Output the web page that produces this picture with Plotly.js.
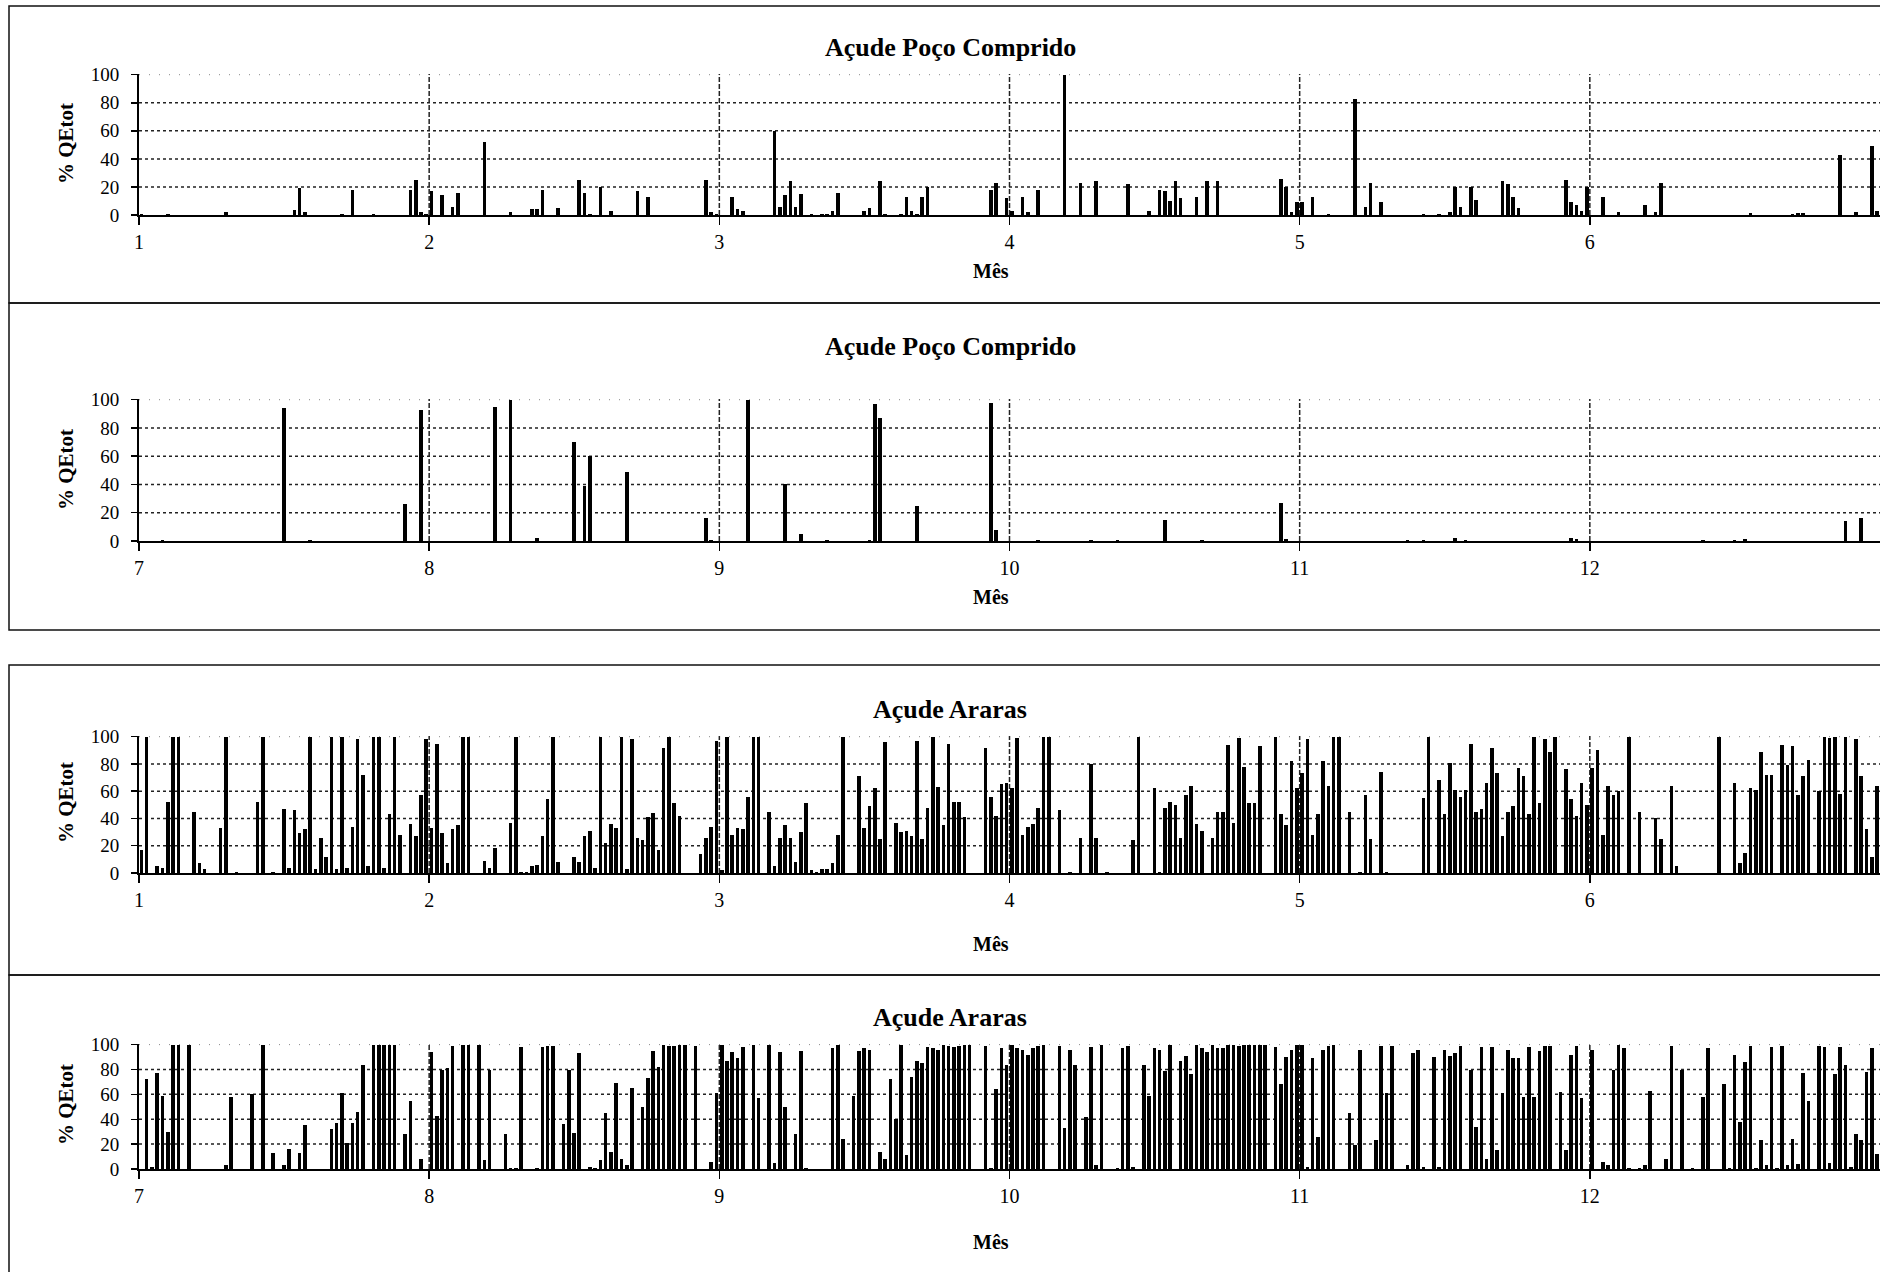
<!DOCTYPE html>
<html><head><meta charset="utf-8">
<script src="https://cdn.plot.ly/plotly-3.0.1.min.js"></script>
<style>html,body{margin:0;padding:0;background:#fff;}#chart{width:1880px;height:1272px;}</style>
</head><body><div id="chart"></div>
<script>
// ---------------- DATA ----------------
const titlePoco = "Açude Poço Comprido";
const titleAraras = "Açude Araras";
const yTitle = "% QEtot";
const xTitle = "Mês";
const monthTicksA = [1, 2, 3, 4, 5, 6];
const monthTicksB = [7, 8, 9, 10, 11, 12];
const yTicks = [0, 20, 40, 60, 80, 100];
const slotsPerMonth = 55;   // values per month on the time axis

// Açude Poço Comprido, months 1-7 (55 values per month)
const pocoA = [
  1,0,0,0,0,0.5,0,0,0,0,0, 0,0,0,0,0,2,0,0,0,0,0, 0,0,0,0,0,0,0,3.5,19,2,0, 0,0,0,0,0,1,0,18,0,0,0, 0.5,0,0,0,0,0,0,18,25,2,1,
  17,0,14,0,6,16,0,0,0,0,52, 0,0,0,0,2,0,0,0,4,4,18, 0,0,5,0,0,0,25,16,1,0,20, 0,3,0,0,0,0,17,0,13,0,0, 0,0,0,0,0,0,0,0,25,2,1,
  0,0,13,4,3,0,0,0,0,0,60, 6,14,24,6,15,0,1,0,1,1,3, 16,0,0,0,0,3,5,0,24,1,0, 0,1,13,3,1,13,20,0,0,0,0, 0,0,0,0,0,0,0,18,23,0,12,
  3,0,13,2,0,18,0,0,0,0,100, 0,0,23,0,0,24,0,0,0,0,0, 22,0,0,0,3,0,18,17,10,24,12, 0,0,13,0,24,0,24,0,0,0,0, 0,0,0,0,0,0,0,26,20,2,9,
  9,0,13,0,0,1,0,0,0,0,83, 0,6,23,0,9,0,0,0,0,0,0, 0,1,0,0,1,0,2,20,6,0,20, 11,0,0,0,0,24,22,13,5,0,0, 0,0,0,0,0,0,25,9,7,3,20,
  0,0,13,0,0,2,0,0,0,0,7, 0,2,23,0,0,0,0,0,0,0,0, 0,0,0,0,0,0,0,0,1.5,0,0, 0,0,0,0,0,1,1.5,1.5,0,0,0, 0,0,0,43,0,0,2,0,0,49,3
];
// Açude Poço Comprido, months 7-13
const pocoB = [
  0,0,0,0,0.5,0,0,0,0,0,0, 0,0,0,0,0,0,0,0,0,0,0, 0,0,0,0,0,94,0,0,0,0,0.5, 0,0,0,0,0,0,0,0,0,0,0, 0,0,0,0,0,0,26,0,0,93,0,
  0,0,0,0,0,0,0,0,0,0,0, 0,95,0,0,100,0,0,0,0,2,0, 0,0,0,0,0,70,0,39,60,0,0, 0,0,0,0,49,0,0,0,0,0,0, 0,0,0,0,0,0,0,0,16,1,0,
  0,0,0,0,0,100,0,0,0,0,0, 0,40,0,0,5,0,0,0,0,1,0, 0,0,0,0,0,0,1,97,87,0,0, 0,0,0,0,25,0,0,0,0,0,0, 0,0,0,0,0,0,0,98,8,0,0,
  0,0,0,0,0,1,0,0,0,0,0, 0,0,0,0,0.5,0,0,0,0,0.5,0, 0,0,0,0,0,0,0,15,0,0,0, 0,0,0,1,0,0,0,0,0,0,0, 0,0,0,0,0,0,0,27,1.5,0,0,
  0,0,0,0,0,0,0,0,0,0,0, 0,0,0,0,0,0,0,0,0,0.5,0, 0,0.5,0,0,0,0,0,2,0,1,0, 0,0,0,0,0,0,0,0,0,0,0, 0,0,0,0,0,0,0,2,1.5,0,0,
  0,0,0,0,0,0,0,0,0,0,0, 0,0,0,0,0,0,0,0,0,0,0.5, 0,0,0,0,0,1,0,1.5,0,0,0, 0,0,0,0,0,0,0,0,0,0,0, 0,0,0,0,14,0,0,16,0,0,0
];
// Açude Araras, months 1-7
const ararasA = [
  17,100,0,5,4,52,100,100,0,0,45, 7,3,0,0,33,100,0,1,0,0,0, 52,100,0,1,0,47,4,46,29,32,100, 3,26,12,100,3,100,4,34,98,72,5, 100,100,4,43,100,28,0,36,27,57,98,
  33,95,29,7,32,35,100,100,0,0,9, 4,18,0,0,37,100,1,1,5,6,27, 54,100,8,0,0,12,8,27,31,4,100, 22,36,33,100,3,98,26,24,41,44,17, 92,100,51,42,0,0,0,14,26,34,97,
  2,100,28,33,32,56,100,100,0,45,5, 26,35,26,8,30,51,2,1,3,3,7, 28,100,0,0,71,33,49,62,25,96,0, 37,30,31,27,97,25,48,100,63,35,95, 52,52,41,0,0,0,92,56,42,65,66,
  62,99,28,34,36,48,100,100,0,46,0, 1,0,26,0,80,26,0,1,0,0,0, 0,24,100,0,0,62,1,48,52,50,26, 57,64,36,31,0,26,45,45,94,37,99, 78,51,51,93,0,0,100,43,35,82,62,
  73,98,28,43,82,64,100,100,0,45,0, 1,57,25,0,74,1,0,0,0,0,0, 0,55,100,0,68,43,81,61,56,61,95, 45,47,66,92,73,27,45,49,77,71,43, 100,51,98,89,100,0,76,54,42,66,50,
  77,90,28,64,57,60,0,100,0,45,0, 0,40,25,0,64,5,0,0,0,0,0, 0,0,100,0,0,66,7,15,62,61,89, 72,72,0,94,79,93,57,71,83,0,60, 100,99,100,58,100,0,98,71,32,12,64
];
// Açude Araras, months 7-13
const ararasB = [
  0,72,2,77,59,30,100,100,0,100,0, 0,0,0,0,0,3,58,0,0,0,60, 0,100,0,13,0,3,16,0,13,35,0, 0,0,0,32,37,61,21,37,46,84,0, 100,100,100,100,100,0,28,55,0,8,0,
  94,43,80,81,99,0,100,100,0,100,7, 80,0,0,28,1,1,98,0,0,1,98, 99,99,0,36,80,29,93,0,2,1,7, 45,14,69,8,3,65,0,50,73,95,82, 100,99,99,100,100,0,99,0,0,6,61,
  100,87,94,89,98,0,100,57,0,100,5, 94,50,0,28,95,1,0,0,0,0,97, 100,24,0,59,95,97,96,0,14,8,72, 40,100,11,74,87,85,98,97,96,100,99, 98,99,100,100,0,0,99,1,64,97,84,
  100,97,96,92,97,99,100,0,0,99,33, 96,84,0,42,98,3,100,0,0,1,97, 99,2,0,84,59,97,96,79,100,0,87, 91,76,100,97,94,100,97,97,100,100,99, 100,100,100,100,100,0,98,68,90,96,100,
  100,2,89,26,96,99,100,0,0,45,19, 96,0,0,23,99,61,99,0,0,3,93, 96,2,0,90,2,96,91,93,99,0,80, 34,98,8,98,15,61,96,89,89,58,98, 58,95,99,99,0,62,15,92,99,57,0,
  96,0,6,3,80,100,97,1,0,1,3, 63,0,0,8,99,0,80,0,1,0,58, 97,0,0,68,1,92,38,86,99,1,23, 3,98,1,99,3,24,4,77,55,0,99, 98,5,76,98,84,2,28,23,78,97,12
];

// ---------------- LAYOUT ----------------
const W = 1880, H = 1272;
const FONT = "Liberation Serif, Times New Roman, serif";
const px = v => v / W;
const py = v => 1 - v / H;

const panels = [
  {title: titlePoco,   values: pocoA,   start: 1, ticks: monthTicksA, top: 74,   bottom: 215,  titleY: 48,   xtY: 271,  ytY: 144},
  {title: titlePoco,   values: pocoB,   start: 7, ticks: monthTicksB, top: 399,  bottom: 541,  titleY: 346,  xtY: 597,  ytY: 470},
  {title: titleAraras, values: ararasA, start: 1, ticks: monthTicksA, top: 736,  bottom: 873,  titleY: 709,  xtY: 944,  ytY: 803},
  {title: titleAraras, values: ararasB, start: 7, ticks: monthTicksB, top: 1044, bottom: 1169, titleY: 1017, xtY: 1242, ytY: 1105}
];

const traces = [], shapes = [], annotations = [];
const layout = {
  width: W, height: H, margin: {l: 0, r: 0, t: 0, b: 0},
  paper_bgcolor: '#fff', plot_bgcolor: 'rgba(0,0,0,0)',
  showlegend: false, bargap: 0,
  font: {family: FONT, color: '#000'}
};

panels.forEach((p, k) => {
  const n = k + 1;
  const xa = 'x' + (n === 1 ? '' : n), ya = 'y' + (n === 1 ? '' : n);
  const xs = p.values.map((v, i) => p.start + (i + 0.45) / slotsPerMonth);
  traces.push({type: 'bar', x: xs, y: p.values, xaxis: xa, yaxis: ya,
    width: 0.68 / slotsPerMonth, marker: {color: '#000', line: {width: 0}}, hoverinfo: 'x+y'});

  layout['xaxis' + (n === 1 ? '' : n)] = {
    domain: [px(139), 1], range: [p.start, p.start + 6], anchor: ya,
    tickmode: 'array', tickvals: p.ticks, ticktext: p.ticks.map(String),
    ticks: 'outside', ticklen: 8, tickwidth: 1.5, tickcolor: '#000',
    showline: true, linecolor: '#000', linewidth: 2, showgrid: false, zeroline: false,
    tickfont: {family: FONT, size: 20, color: '#000'}, ticklabelstandoff: 0
  };
  layout['yaxis' + (n === 1 ? '' : n)] = {
    domain: [py(p.bottom), py(p.top)], range: [0, 100.5], anchor: xa,
    tickmode: 'array', tickvals: yTicks, ticktext: yTicks.map(String),
    ticks: 'outside', ticklen: 6, tickwidth: 1.5, tickcolor: '#000',
    showline: true, linecolor: '#000', linewidth: 2, showgrid: false, zeroline: false,
    tickfont: {family: FONT, size: 19, color: '#000'}, ticklabelstandoff: 8
  };

  // horizontal gridlines
  yTicks.slice(1).forEach(v => {
    shapes.push({type: 'line', xref: xa + ' domain', yref: ya, x0: 0, x1: 1, y0: v, y1: v,
      line: {color: v === 100 ? '#888' : '#222', width: v === 100 ? 1 : 1.5, dash: v === 100 ? '1px,9px' : 'dot'}, layer: 'below'});
  });
  // vertical month gridlines
  p.ticks.slice(1).forEach(m => {
    shapes.push({type: 'line', xref: xa, yref: ya + ' domain', x0: m, x1: m, y0: 0, y1: 1,
      line: {color: '#222', width: 1.5, dash: '5px,2px'}, layer: 'below'});
  });

  annotations.push({text: '<b>' + p.title + '</b>', xref: 'paper', yref: 'paper', x: px(950), y: py(p.titleY),
    xanchor: 'center', yanchor: 'middle', showarrow: false, font: {family: FONT, size: 26, color: '#000'}});
  annotations.push({text: '<b>' + xTitle + '</b>', xref: 'paper', yref: 'paper', x: px(991), y: py(p.xtY),
    xanchor: 'center', yanchor: 'middle', showarrow: false, font: {family: FONT, size: 20, color: '#000'}});
  annotations.push({text: '<b>' + yTitle + '</b>', xref: 'paper', yref: 'paper', x: px(66), y: py(p.ytY),
    xanchor: 'center', yanchor: 'middle', textangle: -90, showarrow: false, font: {family: FONT, size: 21, color: '#000'}});
});

// panel frames
[[6, 303], [303, 630], [665, 975], [975, 1280]].forEach(([t, b]) => {
  shapes.push({type: 'rect', xref: 'paper', yref: 'paper', x0: px(9), x1: 1.02, y0: py(b), y1: py(t),
    line: {color: '#111', width: 1.5}, fillcolor: 'rgba(0,0,0,0)', layer: 'below'});
});

layout.shapes = shapes;
layout.annotations = annotations;
Plotly.newPlot('chart', traces, layout, {displayModeBar: false, staticPlot: true});
</script>
</body></html>
